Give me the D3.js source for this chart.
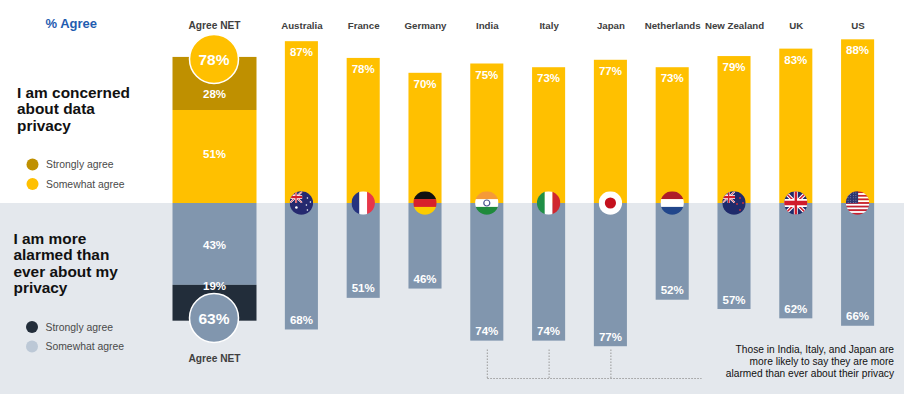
<!DOCTYPE html>
<html>
<head>
<meta charset="utf-8">
<script src="https://cdn.jsdelivr.net/npm/d3@7"></script>
<style>
  html, body { margin: 0; padding: 0; background: #fff; }
  svg text { font-family: "Liberation Sans", Arial, sans-serif; }
</style>
</head>
<body>
<svg id="chart" width="904" height="394"></svg>
<script>
const countries = ["Australia", "France", "Germany", "India", "Italy", "Japan", "Netherlands", "New Zealand", "UK", "US"];
const concerned = [87, 78, 70, 75, 73, 77, 73, 79, 83, 88];
const alarmed = [68, 51, 46, 74, 74, 77, 52, 57, 62, 66];

const concernedNet = 78;
const concernedStrongly = 28;
const concernedSomewhat = 51;
const alarmedNet = 63;
const alarmedStrongly = 19;
const alarmedSomewhat = 43;

const highlighted = ["India", "Italy", "Japan"];
const concernedTitle = ["I am concerned", "about data", "privacy"];
const alarmedTitle = ["I am more", "alarmed than", "ever about my", "privacy"];
const noteLines = ["Those in India, Italy, and Japan are", "more likely to say they are more", "alarmed than ever about their privacy"];

const YELLOW = "#ffc000", DARK_YELLOW = "#bf9000", STEEL = "#8196ae", NAVY = "#222d3a", PALE = "#bcc8d6", BG = "#e4e8ed";

const svg = d3.select("#chart");
const baseY = 203;

const x = d3.scaleBand().domain(countries).range([270.5, 888.5]).paddingInner(0.465).paddingOuter(0.2325);
const yUp = d3.scaleLinear().domain([0, 100]).range([baseY, 17]);
const yDown = d3.scaleLinear().domain([0, 100]).range([baseY, 389]);
const cx = c => x(c) + x.bandwidth() / 2;

svg.append("rect").attr("x", 0).attr("y", baseY).attr("width", 904).attr("height", 394 - baseY).attr("fill", BG);

function label(g, txt, tx, ty, size, color, weight, anchor) {
  return g.append("text")
    .attr("x", tx).attr("y", ty)
    .attr("font-size", size)
    .attr("font-weight", weight || "normal")
    .attr("fill", color)
    .attr("text-anchor", anchor || "middle")
    .attr("dominant-baseline", "central")
    .text(txt);
}

// left column
label(svg, "% Agree", 45.5, 23.5, 13, "#1f5cb0", "bold", "start");
concernedTitle.forEach((t, i) => label(svg, t, 17, 92 + i * 16.6, 15.4, "#111", "bold", "start"));
alarmedTitle.forEach((t, i) => label(svg, t, 13.5, 238 + i * 16.5, 15.4, "#111", "bold", "start"));

const legends = [
  {name: "Strongly agree", color: DARK_YELLOW, x: 32.5, y: 164.5},
  {name: "Somewhat agree", color: YELLOW, x: 32.5, y: 184},
  {name: "Strongly agree", color: NAVY, x: 32, y: 327},
  {name: "Somewhat agree", color: PALE, x: 32, y: 346.5}
];
legends.forEach(d => {
  svg.append("circle").attr("cx", d.x).attr("cy", d.y).attr("r", 6).attr("fill", d.color);
  label(svg, d.name, d.x + 13.5, d.y, 10.4, "#4a4a4a", "normal", "start");
});

// Agree NET stacks
const netX = 172.5, netW = 84, netC = netX + netW / 2;
const upMid = concernedNet - concernedStrongly;
const downMid = alarmedNet - alarmedStrongly;

svg.append("rect").attr("x", netX).attr("width", netW).attr("y", yUp(concernedNet) - 1)
  .attr("height", yUp(upMid) - yUp(concernedNet) + 1).attr("fill", DARK_YELLOW);
svg.append("rect").attr("x", netX).attr("width", netW).attr("y", yUp(upMid))
  .attr("height", baseY - yUp(upMid)).attr("fill", YELLOW);
svg.append("rect").attr("x", netX).attr("width", netW).attr("y", baseY)
  .attr("height", yDown(downMid) - baseY).attr("fill", STEEL);
svg.append("rect").attr("x", netX).attr("width", netW).attr("y", yDown(downMid))
  .attr("height", yDown(alarmedNet) - yDown(downMid) + 0.5).attr("fill", NAVY);

label(svg, concernedStrongly + "%", netC, 94, 11.5, "#fff", "bold");
label(svg, concernedSomewhat + "%", netC, 153.5, 11.5, "#fff", "bold");
label(svg, alarmedSomewhat + "%", netC, 245, 11.5, "#fff", "bold");
label(svg, alarmedStrongly + "%", netC, 285.5, 11.5, "#fff", "bold");

svg.append("circle").attr("cx", netC - 0.5).attr("cy", 59).attr("r", 24.5).attr("fill", YELLOW).attr("stroke", "#fff").attr("stroke-width", 1.5);
svg.append("circle").attr("cx", netC - 0.5).attr("cy", 318).attr("r", 24.5).attr("fill", STEEL).attr("stroke", "#fff").attr("stroke-width", 1.5);
label(svg, concernedNet + "%", netC - 0.5, 59, 15.5, "#fff", "bold");
label(svg, alarmedNet + "%", netC - 0.5, 318, 15.5, "#fff", "bold");
label(svg, "Agree NET", netC, 25, 10.2, "#404040", "bold");
label(svg, "Agree NET", netC, 358.5, 10.2, "#404040", "bold");

// country bars
svg.selectAll("rect.up").data(countries).join("rect")
  .attr("class", "up")
  .attr("x", d => x(d)).attr("width", x.bandwidth())
  .attr("y", (d, i) => yUp(concerned[i]))
  .attr("height", (d, i) => baseY - yUp(concerned[i]))
  .attr("fill", YELLOW);

svg.selectAll("rect.down").data(countries).join("rect")
  .attr("class", "down")
  .attr("x", d => x(d)).attr("width", x.bandwidth())
  .attr("y", baseY)
  .attr("height", (d, i) => yDown(alarmed[i]) - baseY)
  .attr("fill", STEEL);

countries.forEach((c, i) => {
  label(svg, c, cx(c) + 0.5, 25, 9.7, "#404040", "bold");
  label(svg, concerned[i] + "%", cx(c), yUp(concerned[i]) + 11, 11.5, "#fff", "bold");
  label(svg, alarmed[i] + "%", cx(c), yDown(alarmed[i]) - 9.5, 11.5, "#fff", "bold");
});

// dotted bracket under India, Italy, Japan
const bracketTop = 349.5, bracketY = 378.5;
highlighted.forEach(c => {
  svg.append("line").attr("x1", cx(c) + 0.5).attr("x2", cx(c) + 0.5).attr("y1", bracketTop).attr("y2", bracketY)
    .attr("stroke", "#9a9a9a").attr("stroke-width", 1).attr("stroke-dasharray", "1.5 1.5");
});
svg.append("line").attr("x1", cx(highlighted[0]) + 0.5).attr("x2", 701.5).attr("y1", bracketY).attr("y2", bracketY)
  .attr("stroke", "#9a9a9a").attr("stroke-width", 1).attr("stroke-dasharray", "1.5 1.5");

noteLines.forEach((t, i) => label(svg, t, 894, [349, 361.5, 373.5][i], 10.2, "#111", "normal", "end"));

// flags
const R = 11.7;
svg.append("defs").append("clipPath").attr("id", "flag_clip")
  .append("circle").attr("r", R);

function stripes(g, colors, vertical) {
  const n = colors.length, s = 2 * R / n;
  colors.forEach((col, i) => {
    g.append("rect")
      .attr("x", vertical ? -R + i * s : -R)
      .attr("y", vertical ? -R : -R + i * s)
      .attr("width", vertical ? s + 0.2 : 2 * R)
      .attr("height", vertical ? 2 * R : s + 0.2)
      .attr("fill", col);
  });
}

function unionJack(g, bx, by, w, h) {
  const s = g.append("svg").attr("x", bx).attr("y", by).attr("width", w).attr("height", h)
    .attr("viewBox", "0 0 60 30").attr("preserveAspectRatio", "none");
  s.append("rect").attr("width", 60).attr("height", 30).attr("fill", "#1f2a6b");
  s.append("path").attr("d", "M0,0L60,30M60,0L0,30").attr("stroke", "#fff").attr("stroke-width", 6);
  s.append("path").attr("d", "M0,0L60,30M60,0L0,30").attr("stroke", "#d01c2c").attr("stroke-width", 2.5);
  s.append("path").attr("d", "M30,0V30M0,15H60").attr("stroke", "#fff").attr("stroke-width", 10);
  s.append("path").attr("d", "M30,0V30M0,15H60").attr("stroke", "#d01c2c").attr("stroke-width", 6);
}

function dots(g, pts, col, r) {
  pts.forEach(p => g.append("circle").attr("cx", p[0]).attr("cy", p[1]).attr("r", r).attr("fill", col));
}

const flagDraw = {
  "Australia": g => {
    stripes(g, ["#25296f"], false);
    unionJack(g, -R, -R, R + 1, R);
    dots(g, [[-5, 4.5]], "#fff", 1.3);
    dots(g, [[6, -5], [9, -1], [5, 2], [6, 7]], "#fff", 0.8);
  },
  "France": g => stripes(g, ["#26337f", "#ffffff", "#e8364a"], true),
  "Germany": g => stripes(g, ["#111111", "#d8202a", "#fccc00"], false),
  "India": g => {
    stripes(g, ["#f59a38", "#ffffff", "#1f8a3c"], false);
    g.append("circle").attr("r", 3).attr("fill", "none").attr("stroke", "#4a5590").attr("stroke-width", 1.2);
  },
  "Italy": g => stripes(g, ["#1f8f46", "#ffffff", "#d0272f"], true),
  "Japan": g => {
    stripes(g, ["#ffffff"], false);
    g.append("circle").attr("r", 5.6).attr("fill", "#c4111d");
  },
  "Netherlands": g => stripes(g, ["#ae1c28", "#ffffff", "#21468b"], false),
  "New Zealand": g => {
    stripes(g, ["#1f2a6b"], false);
    unionJack(g, -R, -R, R + 1, R);
    dots(g, [[6, -5], [9, 0], [3, 1], [6, 7]], "#d0303a", 0.9);
  },
  "UK": g => unionJack(g, -R, -R, 2 * R, 2 * R),
  "US": g => {
    stripes(g, d3.range(13).map(i => i % 2 ? "#ffffff" : "#c8202f"), false);
    g.append("rect").attr("x", -R).attr("y", -R).attr("width", R + 0.5).attr("height", 12).attr("fill", "#2d3570");
    const pts = [];
    d3.range(-9.5, 0, 2.6).forEach(a => d3.range(-10, 0, 2.4).forEach(b => pts.push([a, b])));
    dots(g, pts, "#dfe3ef", 0.4);
  }
};

countries.forEach(c => {
  const g = svg.append("g").attr("transform", "translate(" + cx(c) + "," + baseY + ")")
    .append("g").attr("clip-path", "url(#flag_clip)");
  flagDraw[c](g);
});
</script>
</body>
</html>
